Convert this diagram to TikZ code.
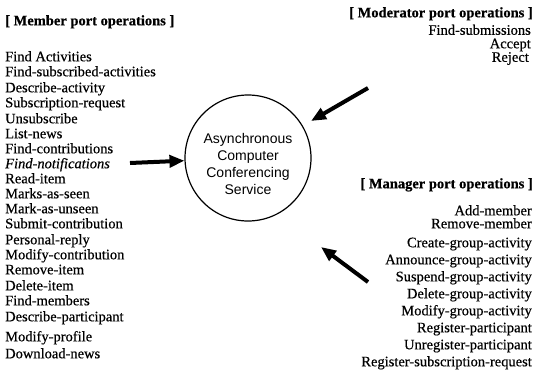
\documentclass[tikz,border=0pt]{standalone}
\usepackage{fontspec}
\setmainfont{Liberation Serif}[FakeBold=0.5]
\setsansfont{Liberation Sans}
\usetikzlibrary{arrows.meta}
\tikzset{
  op/.style={inner sep=0pt, font=\fontsize{14.5}{15}\selectfont},
  opl/.style={op, anchor=mid west},
  opr/.style={op, anchor=mid east},
  hdl/.style={inner sep=0pt, anchor=mid west, font=\fontsize{14.5}{15}\selectfont\bfseries},
  hdr/.style={inner sep=0pt, anchor=mid east, font=\fontsize{14.5}{15}\selectfont\bfseries},
  ring/.style={circle, draw, line width=1.2pt, minimum size=126pt, inner sep=0pt},
  ringtext/.style={inner sep=0pt, align=center, font=\sffamily\fontsize{14}{17}\selectfont},
  fat/.style={line width=4pt, -{Triangle[length=15pt,width=12pt]}}
}
\begin{document}
\begin{tikzpicture}[x=1pt,y=-1pt]
\useasboundingbox (0,0) rectangle (535,391);

% central service
\node[ring] (acc) at (248,158) {};
\node[ringtext] (acctext) at (248,164) {Asynchronous\\Computer\\Conferencing\\Service};

% member port
\node[hdl] (mh) at (5,23) {[ Member port operations ]};
\node[opl] (m1)  at (5,59)  {Find Activities};
\node[opl] (m2)  at (5,74)  {Find-subscribed-activities};
\node[opl] (m3)  at (5,90)  {Describe-activity};
\node[opl] (m4)  at (5,105) {Subscription-request};
\node[opl] (m5)  at (5,121) {Unsubscribe};
\node[opl] (m6)  at (5,136) {List-news};
\node[opl] (m7)  at (5,151) {Find-contributions};
\node[opl] (m8)  at (5,166) {\itshape Find-notifications};
\node[opl] (m9)  at (5,181) {Read-item};
\node[opl] (m10) at (5,196) {Marks-as-seen};
\node[opl] (m11) at (5,211) {Mark-as-unseen};
\node[opl] (m12) at (5,226) {Submit-contribution};
\node[opl] (m13) at (5,242) {Personal-reply};
\node[opl] (m14) at (5,257) {Modify-contribution};
\node[opl] (m15) at (5,272) {Remove-item};
\node[opl] (m16) at (5,288) {Delete-item};
\node[opl] (m17) at (5,303) {Find-members};
\node[opl] (m18) at (5,319) {Describe-participant};
\node[opl] (m19) at (5,339) {Modify-profile};
\node[opl] (m20) at (5,356) {Download-news};

% moderator port
\node[hdr] (dh) at (533,15) {[ Moderator port operations ]};
\node[opr] (d1) at (531,32.5) {Find-submissions};
\node[opr] (d2) at (531,46) {Accept};
\node[opr] (d3) at (529,59.5) {Reject};

% manager port
\node[hdr] (gh)  at (533,186) {[ Manager port operations ]};
\node[opr] (g1)  at (532,213) {Add-member};
\node[opr] (g2)  at (532,226) {Remove-member};
\node[opr] (g3)  at (532,245) {Create-group-activity};
\node[opr] (g4)  at (532,262) {Announce-group-activity};
\node[opr] (g5)  at (532,279) {Suspend-group-activity};
\node[opr] (g6)  at (532,296) {Delete-group-activity};
\node[opr] (g7)  at (532,313) {Modify-group-activity};
\node[opr] (g8)  at (532,330) {Register-participant};
\node[opr] (g9)  at (532,347) {Unregister-participant};
\node[opr] (g10) at (532,364) {Register-subscription-request};

% invocation arrows
\coordinate (ma) at (130,163);
\coordinate (da) at (368,88);
\coordinate (dt) at (311,121);
\coordinate (ga) at (368,282);
\coordinate (gt) at (321,247);
\draw[fat] (ma) -- (acc);
\draw[fat] (da) -- (dt);
\draw[fat] (ga) -- (gt);
\end{tikzpicture}
\end{document}
